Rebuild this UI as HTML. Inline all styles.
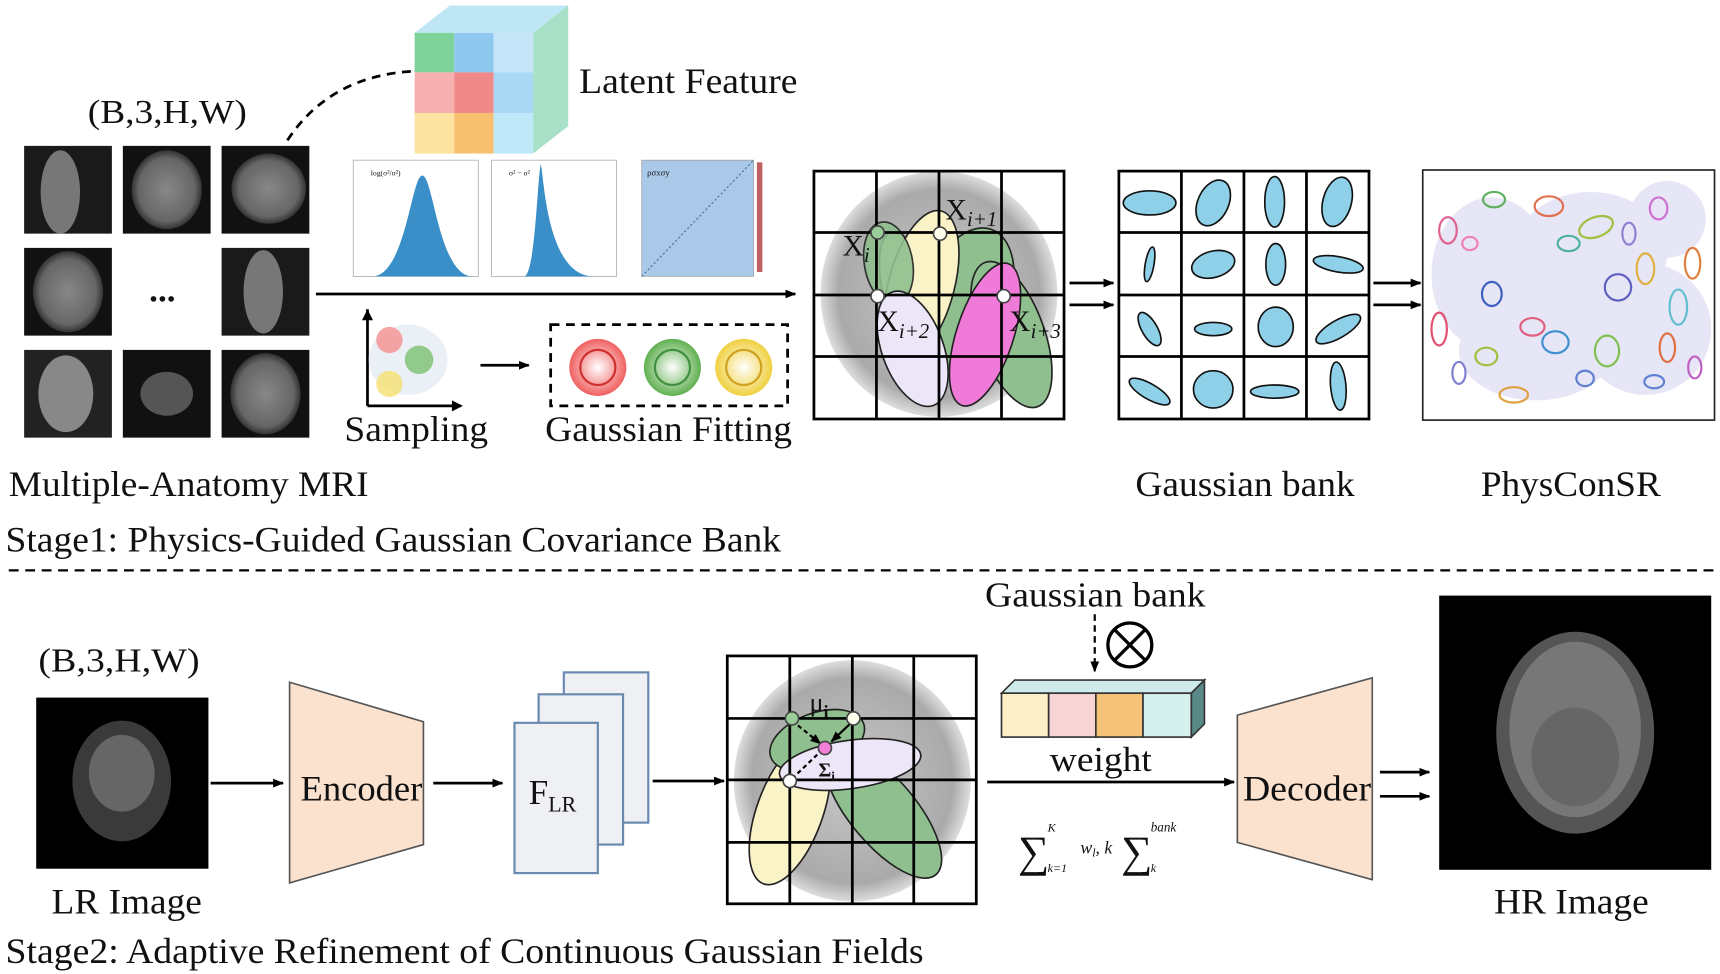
<!DOCTYPE html>
<html><head><meta charset="utf-8"><style>
html,body{margin:0;padding:0;background:#fff;}
svg{display:block;}
text{font-family:"Liberation Serif",serif;fill:#111;}
</style></head><body>
<svg width="1720" height="974" viewBox="0 0 1568 888" preserveAspectRatio="none" xmlns="http://www.w3.org/2000/svg">
<defs>
<marker id="ar" markerWidth="10" markerHeight="10" refX="9" refY="5" orient="auto" markerUnits="userSpaceOnUse"><path d="M0,1 L10,5 L0,9 z" fill="#000"/></marker>
<radialGradient id="brain" cx="50%" cy="50%" r="50%"><stop offset="0" stop-color="#888"/><stop offset="0.8" stop-color="#666"/><stop offset="1" stop-color="#333"/></radialGradient>
<radialGradient id="brainL" cx="50%" cy="50%" r="50%"><stop offset="0" stop-color="#c8c8c8"/><stop offset="0.85" stop-color="#aaa"/><stop offset="1" stop-color="#ddd"/></radialGradient>
<radialGradient id="gr" cx="50%" cy="50%" r="50%"><stop offset="0" stop-color="#fff"/><stop offset="1" stop-color="#f06060"/></radialGradient>
<radialGradient id="gg" cx="50%" cy="50%" r="50%"><stop offset="0" stop-color="#fff"/><stop offset="1" stop-color="#60b050"/></radialGradient>
<radialGradient id="gy" cx="50%" cy="50%" r="50%"><stop offset="0" stop-color="#fff"/><stop offset="1" stop-color="#f0d040"/></radialGradient>
</defs>

<!-- ===== Stage 1 ===== -->
<text x="80" y="112" font-size="31" textLength="145" lengthAdjust="spacingAndGlyphs">(B,3,H,W)</text>
<path d="M262,128 Q300,70 375,65" stroke="#000" stroke-width="2.5" fill="none" stroke-dasharray="8,6"/>

<g>
<rect x="22" y="133" width="80" height="80" fill="#1a1a1a"/><ellipse cx="55" cy="175" rx="18" ry="38" fill="#777"/>
<rect x="112" y="133" width="80" height="80" fill="#111"/><ellipse cx="152" cy="173" rx="32" ry="36" fill="url(#brain)"/>
<rect x="202" y="133" width="80" height="80" fill="#111"/><ellipse cx="245" cy="172" rx="34" ry="32" fill="url(#brain)"/>
<rect x="22" y="226" width="80" height="80" fill="#111"/><ellipse cx="62" cy="266" rx="32" ry="37" fill="url(#brain)"/>
<text x="136" y="275" font-size="32" font-weight="bold">...</text>
<rect x="202" y="226" width="80" height="80" fill="#1a1a1a"/><ellipse cx="240" cy="266" rx="18" ry="38" fill="#777"/>
<rect x="22" y="319" width="80" height="80" fill="#222"/><ellipse cx="60" cy="359" rx="25" ry="35" fill="#888"/>
<rect x="112" y="319" width="80" height="80" fill="#111"/><ellipse cx="152" cy="359" rx="24" ry="20" fill="#555"/>
<rect x="202" y="319" width="80" height="80" fill="#111"/><ellipse cx="242" cy="359" rx="32" ry="37" fill="url(#brain)"/>
</g>

<g>
<polygon points="378,30 410,5 518,5 486,30" fill="#bfe6f5"/>
<polygon points="486,30 518,5 518,115 486,140" fill="#a8e0c8"/>
<rect x="378" y="30" width="36" height="36" fill="#7ed39a"/><rect x="414" y="30" width="36" height="36" fill="#8fc8ef"/><rect x="450" y="30" width="36" height="36" fill="#c5e4f8"/>
<rect x="378" y="66" width="36" height="37" fill="#f6b0b0"/><rect x="414" y="66" width="36" height="37" fill="#f08a8a"/><rect x="450" y="66" width="36" height="37" fill="#a9d8f5"/>
<rect x="378" y="103" width="36" height="37" fill="#fde3a0"/><rect x="414" y="103" width="36" height="37" fill="#f7c070"/><rect x="450" y="103" width="36" height="37" fill="#bfe8f8"/>
</g>
<text x="528" y="85" font-size="33" textLength="199" lengthAdjust="spacingAndGlyphs">Latent Feature</text>

<g font-size="6" fill="#333">
<rect x="322" y="146" width="114" height="106" fill="#fff" stroke="#999" stroke-width="0.6"/>
<path d="M340,252 C370,250 375,160 385,160 C395,160 400,250 430,252 Z" fill="#3a8fc8"/>
<text x="338" y="160" font-size="7">log(σ²/σ²)</text>
<rect x="448" y="146" width="114" height="106" fill="#fff" stroke="#999" stroke-width="0.6"/>
<path d="M478,252 C488,250 490,160 493,150 C496,160 498,250 540,252 Z" fill="#3a8fc8"/>
<text x="464" y="160" font-size="7">σ² − σ²</text>
<rect x="585" y="146" width="102" height="106" fill="#aac8e8" stroke="#999" stroke-width="0.6"/>
<line x1="585" y1="252" x2="687" y2="146" stroke="#4070a0" stroke-width="1" stroke-dasharray="2,2"/>
<rect x="690" y="148" width="5" height="100" fill="#c06060"/>
<text x="590" y="160" font-size="8">ρσxσy</text>
</g>
<line x1="288" y1="268" x2="725" y2="268" stroke="#000" stroke-width="2.5" marker-end="url(#ar)"/>

<line x1="335" y1="282" x2="335" y2="370" stroke="#000" stroke-width="2.5"/>
<line x1="335" y1="370" x2="420" y2="370" stroke="#000" stroke-width="2.5"/>
<path d="M335,282 l-5,10 h10 z"/><path d="M422,370 l-10,-5 v10 z"/>
<ellipse cx="372" cy="328" rx="36" ry="32" fill="#dde4f0" opacity="0.6"/>
<circle cx="355" cy="310" r="12" fill="#f59090" opacity="0.8"/>
<circle cx="382" cy="328" r="13" fill="#7cc070" opacity="0.8"/>
<circle cx="355" cy="350" r="12" fill="#f5e070" opacity="0.8"/>
<line x1="438" y1="333" x2="482" y2="333" stroke="#000" stroke-width="2.5" marker-end="url(#ar)"/>
<rect x="502" y="296" width="216" height="74" fill="none" stroke="#000" stroke-width="2.5" stroke-dasharray="8,6"/>
<circle cx="545" cy="335" r="26" fill="url(#gr)"/><circle cx="545" cy="335" r="16" fill="none" stroke="#d03030" stroke-width="2"/>
<circle cx="613" cy="335" r="26" fill="url(#gg)"/><circle cx="613" cy="335" r="16" fill="none" stroke="#409040" stroke-width="2"/>
<circle cx="678" cy="335" r="26" fill="url(#gy)"/><circle cx="678" cy="335" r="16" fill="none" stroke="#d0a020" stroke-width="2"/>
<text x="314" y="402" font-size="33" textLength="131" lengthAdjust="spacingAndGlyphs">Sampling</text>
<text x="497" y="402" font-size="33" textLength="225" lengthAdjust="spacingAndGlyphs">Gaussian Fitting</text>

<rect x="742" y="156" width="228" height="226" fill="#fff"/>
<ellipse cx="856" cy="268" rx="108" ry="112" fill="url(#brainL)"/>
<ellipse cx="828" cy="270" rx="22" ry="60" transform="rotate(-15 828 270)" fill="#fbf3c8" stroke="#222" stroke-width="1.5"/>
<ellipse cx="880" cy="275" rx="40" ry="70" transform="rotate(20 880 275)" fill="#8fbf8f" stroke="#222" stroke-width="1.5"/>
<ellipse cx="840" cy="260" rx="30" ry="70" transform="rotate(15 840 260)" fill="#fbf3c8" stroke="#222" stroke-width="1.5"/>
<ellipse cx="810" cy="240" rx="22" ry="38" transform="rotate(-10 810 240)" fill="#8fbf8f" stroke="#222" stroke-width="1.5" opacity="0.9"/>
<ellipse cx="832" cy="318" rx="28" ry="55" transform="rotate(-20 832 318)" fill="#ece6f8" stroke="#222" stroke-width="1.5"/>
<ellipse cx="922" cy="305" rx="30" ry="70" transform="rotate(-20 922 305)" fill="#8fbf8f" stroke="#222" stroke-width="1.5"/>
<ellipse cx="898" cy="305" rx="26" ry="68" transform="rotate(18 898 305)" fill="#f07ad8" stroke="#222" stroke-width="1.5"/>
<g stroke="#000" stroke-width="2.5" fill="none">
<rect x="742" y="156" width="228" height="226"/>
<line x1="799" y1="156" x2="799" y2="382"/><line x1="856" y1="156" x2="856" y2="382"/><line x1="913" y1="156" x2="913" y2="382"/>
<line x1="742" y1="212" x2="970" y2="212"/><line x1="742" y1="269" x2="970" y2="269"/><line x1="742" y1="325" x2="970" y2="325"/>
</g>
<g fill="#fff" stroke="#444" stroke-width="1.5">
<circle cx="800" cy="212" r="6" fill="#9c9"/><circle cx="857" cy="213" r="6" fill="#ffe"/><circle cx="800" cy="270" r="6"/><circle cx="915" cy="270" r="6"/>
</g>
<text x="768" y="233" font-size="27">X<tspan font-size="19" dy="6" font-style="italic">i</tspan></text>
<text x="862" y="200" font-size="27">X<tspan font-size="19" dy="6" font-style="italic">i+1</tspan></text>
<text x="800" y="302" font-size="27">X<tspan font-size="19" dy="6" font-style="italic">i+2</tspan></text>
<text x="920" y="302" font-size="27">X<tspan font-size="19" dy="6" font-style="italic">i+3</tspan></text>

<line x1="975" y1="258" x2="1015" y2="258" stroke="#000" stroke-width="2.5" marker-end="url(#ar)"/>
<line x1="975" y1="278" x2="1015" y2="278" stroke="#000" stroke-width="2.5" marker-end="url(#ar)"/>

<g fill="#8ed0e8" stroke="#111" stroke-width="1.5">
<ellipse cx="1048" cy="185" rx="24" ry="11"/>
<ellipse cx="1106" cy="185" rx="14" ry="22" transform="rotate(25 1106 185)"/>
<ellipse cx="1162" cy="184" rx="9" ry="23"/>
<ellipse cx="1219" cy="184" rx="13" ry="23" transform="rotate(15 1219 184)"/>
<ellipse cx="1048" cy="241" rx="4" ry="16" transform="rotate(10 1048 241)"/>
<ellipse cx="1106" cy="241" rx="20" ry="12" transform="rotate(-15 1106 241)"/>
<ellipse cx="1163" cy="241" rx="9" ry="19"/>
<ellipse cx="1220" cy="241" rx="23" ry="7" transform="rotate(10 1220 241)"/>
<ellipse cx="1048" cy="300" rx="7" ry="17" transform="rotate(-30 1048 300)"/>
<ellipse cx="1106" cy="300" rx="17" ry="6"/>
<ellipse cx="1163" cy="298" rx="16" ry="18"/>
<ellipse cx="1220" cy="300" rx="23" ry="8" transform="rotate(-30 1220 300)"/>
<ellipse cx="1048" cy="357" rx="21" ry="7" transform="rotate(30 1048 357)"/>
<ellipse cx="1106" cy="355" rx="18" ry="17"/>
<ellipse cx="1162" cy="357" rx="22" ry="6"/>
<ellipse cx="1220" cy="352" rx="7" ry="22" transform="rotate(-5 1220 352)"/>
</g>
<g stroke="#000" stroke-width="2.5" fill="none">
<rect x="1020" y="156" width="228" height="226"/>
<line x1="1077" y1="156" x2="1077" y2="382"/><line x1="1134" y1="156" x2="1134" y2="382"/><line x1="1191" y1="156" x2="1191" y2="382"/>
<line x1="1020" y1="212" x2="1248" y2="212"/><line x1="1020" y1="269" x2="1248" y2="269"/><line x1="1020" y1="325" x2="1248" y2="325"/>
</g>
<line x1="1252" y1="258" x2="1295" y2="258" stroke="#000" stroke-width="2.5" marker-end="url(#ar)"/>
<line x1="1252" y1="278" x2="1295" y2="278" stroke="#000" stroke-width="2.5" marker-end="url(#ar)"/>

<rect x="1297" y="155" width="266" height="228" fill="#fff" stroke="#222" stroke-width="1.5"/>
<g fill="#c8c8ee" opacity="0.45">
<ellipse cx="1360" cy="250" rx="55" ry="70"/><ellipse cx="1450" cy="230" rx="70" ry="55"/><ellipse cx="1500" cy="300" rx="60" ry="60"/><ellipse cx="1400" cy="320" rx="70" ry="45"/><ellipse cx="1520" cy="200" rx="35" ry="35"/>
</g>
<g fill="none" stroke-width="2">
<ellipse cx="1320" cy="210" rx="8" ry="12" stroke="#e06090"/><ellipse cx="1362" cy="182" rx="10" ry="7" stroke="#60b060"/><ellipse cx="1412" cy="188" rx="13" ry="9" stroke="#e07050"/>
<ellipse cx="1455" cy="207" rx="16" ry="9" stroke="#a0c040" transform="rotate(-20 1455 207)"/><ellipse cx="1485" cy="213" rx="6" ry="10" stroke="#9080d0"/><ellipse cx="1512" cy="190" rx="8" ry="10" stroke="#d070d0"/>
<ellipse cx="1543" cy="240" rx="7" ry="14" stroke="#e08040"/><ellipse cx="1500" cy="245" rx="8" ry="14" stroke="#e0b040"/><ellipse cx="1475" cy="262" rx="12" ry="12" stroke="#6060c0"/>
<ellipse cx="1530" cy="280" rx="8" ry="16" stroke="#60c0d0"/><ellipse cx="1360" cy="268" rx="9" ry="11" stroke="#4060c0"/><ellipse cx="1312" cy="300" rx="7" ry="15" stroke="#e05070"/>
<ellipse cx="1397" cy="298" rx="11" ry="8" stroke="#e06080"/><ellipse cx="1418" cy="312" rx="12" ry="10" stroke="#4090d0"/><ellipse cx="1465" cy="320" rx="11" ry="14" stroke="#80c050"/>
<ellipse cx="1355" cy="325" rx="10" ry="8" stroke="#a0c040"/><ellipse cx="1330" cy="340" rx="6" ry="10" stroke="#8080d0"/><ellipse cx="1380" cy="360" rx="13" ry="7" stroke="#e0a040"/>
<ellipse cx="1520" cy="317" rx="7" ry="13" stroke="#e07040"/><ellipse cx="1545" cy="335" rx="6" ry="10" stroke="#c060c0"/><ellipse cx="1508" cy="348" rx="9" ry="6" stroke="#6080d0"/>
<ellipse cx="1430" cy="222" rx="10" ry="7" stroke="#50b0a0"/><ellipse cx="1340" cy="222" rx="7" ry="6" stroke="#f080b0"/><ellipse cx="1445" cy="345" rx="8" ry="7" stroke="#6080d0"/>
</g>

<text x="1035" y="452" font-size="33" textLength="200" lengthAdjust="spacingAndGlyphs">Gaussian bank</text>
<text x="1350" y="452" font-size="33" textLength="164" lengthAdjust="spacingAndGlyphs">PhysConSR</text>
<text x="8" y="452" font-size="33" textLength="328" lengthAdjust="spacingAndGlyphs">Multiple-Anatomy MRI</text>
<text x="5" y="503" font-size="33" textLength="707" lengthAdjust="spacingAndGlyphs">Stage1: Physics-Guided Gaussian Covariance Bank</text>
<line x1="8" y1="520" x2="1563" y2="520" stroke="#000" stroke-width="2" stroke-dasharray="9,6"/>

<!-- ===== Stage 2 ===== -->
<text x="35" y="612" font-size="31" textLength="147" lengthAdjust="spacingAndGlyphs">(B,3,H,W)</text>
<rect x="33" y="636" width="157" height="156" fill="#000"/>
<ellipse cx="111" cy="712" rx="45" ry="55" fill="#3a3a3a"/><ellipse cx="111" cy="705" rx="30" ry="35" fill="#666"/>
<line x1="192" y1="714" x2="258" y2="714" stroke="#000" stroke-width="2.5" marker-end="url(#ar)"/>
<polygon points="264,622 386,658 386,770 264,805" fill="#fbe2cf" stroke="#555" stroke-width="1.5"/>
<text x="274" y="730" font-size="33" textLength="111" lengthAdjust="spacingAndGlyphs">Encoder</text>
<line x1="395" y1="714" x2="458" y2="714" stroke="#000" stroke-width="2.5" marker-end="url(#ar)"/>
<g fill="#eef0f4" stroke="#6a8ab0" stroke-width="2">
<rect x="514" y="613" width="77" height="137"/><rect x="491" y="633" width="77" height="137"/><rect x="469" y="659" width="76" height="137"/>
</g>
<text x="482" y="733" font-size="32">F<tspan font-size="20" dy="7">LR</tspan></text>
<line x1="595" y1="712" x2="660" y2="712" stroke="#000" stroke-width="2.5" marker-end="url(#ar)"/>

<rect x="663" y="598" width="227" height="226" fill="#fff"/>
<ellipse cx="777" cy="712" rx="108" ry="110" fill="url(#brainL)"/>
<ellipse cx="805" cy="740" rx="30" ry="75" transform="rotate(-40 805 740)" fill="#8fbf8f" stroke="#222" stroke-width="1.5"/>
<ellipse cx="720" cy="740" rx="30" ry="70" transform="rotate(20 720 740)" fill="#fbf3c8" stroke="#222" stroke-width="1.5"/>
<ellipse cx="745" cy="675" rx="25" ry="45" transform="rotate(70 745 675)" fill="#8fbf8f" stroke="#222" stroke-width="1.5"/>
<ellipse cx="775" cy="697" rx="65" ry="22" transform="rotate(-8 775 697)" fill="#ece6f8" stroke="#222" stroke-width="1.5"/>
<g stroke="#000" stroke-width="2.5" fill="none">
<rect x="663" y="598" width="227" height="226"/>
<line x1="720" y1="598" x2="720" y2="824"/><line x1="777" y1="598" x2="777" y2="824"/><line x1="833" y1="598" x2="833" y2="824"/>
<line x1="663" y1="655" x2="890" y2="655"/><line x1="663" y1="711" x2="890" y2="711"/><line x1="663" y1="768" x2="890" y2="768"/>
</g>
<line x1="722" y1="657" x2="748" y2="678" stroke="#000" stroke-width="2" stroke-dasharray="4,3" marker-end="url(#ar)"/>
<line x1="778" y1="657" x2="758" y2="676" stroke="#000" stroke-width="2" marker-end="url(#ar)"/>
<line x1="722" y1="710" x2="745" y2="688" stroke="#000" stroke-width="2" stroke-dasharray="4,3"/>
<g stroke="#444" stroke-width="1.5">
<circle cx="722" cy="655" r="6" fill="#9c9"/><circle cx="778" cy="655" r="6" fill="#ffe"/><circle cx="752" cy="682" r="6" fill="#f080d8"/><circle cx="720" cy="712" r="6" fill="#fff"/>
</g>
<text x="738" y="648" font-size="24">μ<tspan font-size="16" dy="6" font-weight="bold">i</tspan></text>
<text x="746" y="708" font-size="18" font-weight="bold">Σ<tspan font-size="12" dy="4">i</tspan></text>

<text x="898" y="553" font-size="32" textLength="201" lengthAdjust="spacingAndGlyphs">Gaussian bank</text>
<line x1="998" y1="560" x2="998" y2="612" stroke="#000" stroke-width="2" stroke-dasharray="6,4" marker-end="url(#ar)"/>
<circle cx="1030" cy="588" r="20" fill="#fff" stroke="#000" stroke-width="3"/>
<line x1="1016" y1="574" x2="1044" y2="602" stroke="#000" stroke-width="3"/><line x1="1044" y1="574" x2="1016" y2="602" stroke="#000" stroke-width="3"/>
<g stroke="#333" stroke-width="1.5">
<polygon points="913,632 925,620 1098,620 1086,632" fill="#cfeaea"/>
<polygon points="1086,632 1098,620 1098,660 1086,672" fill="#5a8a88"/>
<rect x="913" y="632" width="43" height="40" fill="#fdf0c8"/><rect x="956" y="632" width="43" height="40" fill="#f8d4d4"/>
<rect x="999" y="632" width="43" height="40" fill="#f5c27a"/><rect x="1042" y="632" width="44" height="40" fill="#d6f0ee"/>
</g>
<text x="957" y="703" font-size="32" textLength="93" lengthAdjust="spacingAndGlyphs">weight</text>
<line x1="900" y1="713" x2="1125" y2="713" stroke="#000" stroke-width="2.5" marker-end="url(#ar)"/>
<text x="928" y="790" font-size="40">∑</text>
<text x="955" y="758" font-size="11" font-style="italic">K</text>
<text x="955" y="795" font-size="11" font-style="italic">k=1</text>
<text x="985" y="778" font-size="16" font-style="italic">w<tspan font-size="11" dy="3">l</tspan><tspan dy="-3">, k</tspan></text>
<text x="1022" y="790" font-size="40">∑</text>
<text x="1049" y="758" font-size="12" font-style="italic">bank</text>
<text x="1049" y="795" font-size="11" font-style="italic">k</text>

<polygon points="1128,652 1251,618 1251,802 1128,768" fill="#fbe2cf" stroke="#555" stroke-width="1.5"/>
<text x="1133" y="730" font-size="33" textLength="117" lengthAdjust="spacingAndGlyphs">Decoder</text>
<line x1="1258" y1="704" x2="1303" y2="704" stroke="#000" stroke-width="2.5" marker-end="url(#ar)"/>
<line x1="1258" y1="726" x2="1303" y2="726" stroke="#000" stroke-width="2.5" marker-end="url(#ar)"/>
<rect x="1312" y="543" width="248" height="250" fill="#000"/>
<ellipse cx="1436" cy="668" rx="72" ry="92" fill="#555"/><ellipse cx="1436" cy="665" rx="60" ry="80" fill="#777"/>
<ellipse cx="1436" cy="690" rx="40" ry="45" fill="#666"/>

<text x="47" y="833" font-size="33" textLength="137" lengthAdjust="spacingAndGlyphs">LR Image</text>
<text x="1362" y="833" font-size="33" textLength="141" lengthAdjust="spacingAndGlyphs">HR Image</text>
<text x="5" y="878" font-size="33" textLength="837" lengthAdjust="spacingAndGlyphs">Stage2: Adaptive Refinement of Continuous Gaussian Fields</text>
</svg>
</body></html>
